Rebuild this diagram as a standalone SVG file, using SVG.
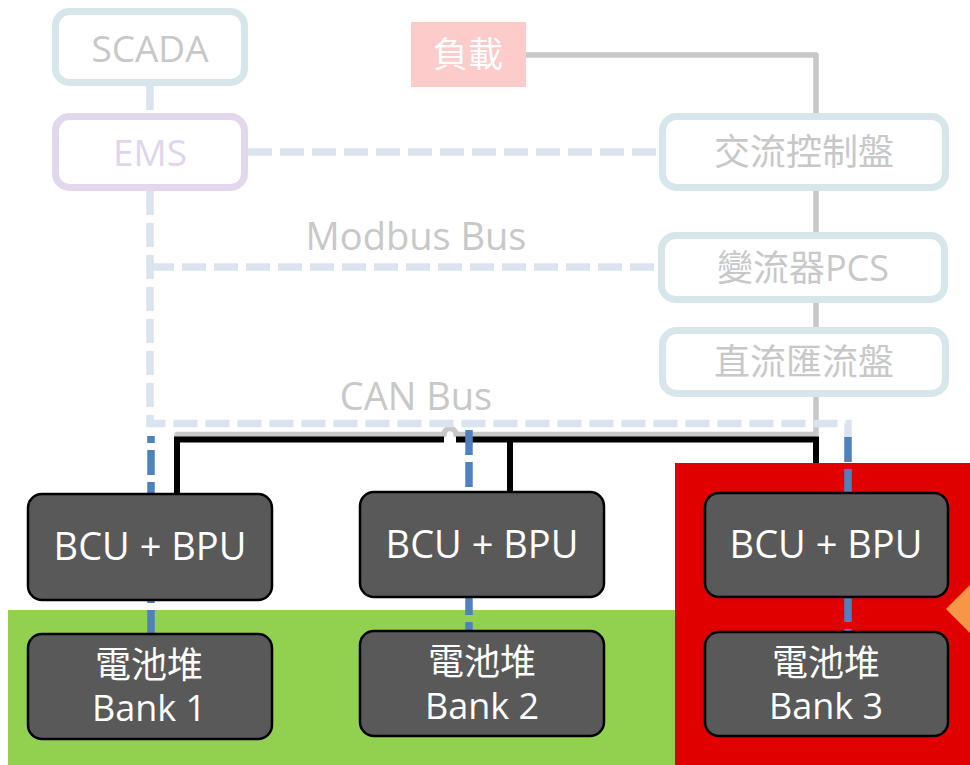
<svg xmlns="http://www.w3.org/2000/svg" width="970" height="765" viewBox="0 0 970 765">
<style>
text{font-family:"Open Sans","Noto Sans CJK TC","Noto Sans",sans-serif;text-anchor:middle}
.lt{fill:none;stroke:#dae3f0;stroke-width:7.5;stroke-dasharray:24 8}
.bl{fill:none;stroke:#4f81bd;stroke-width:7.5;stroke-dasharray:25 7}
.tb{fill:#fff;stroke:#d6e6ea;stroke-width:7}
.gt{fill:#c8c8c8;font-size:36px}
.dk{fill:#595959;stroke:#000;stroke-width:2.5}
.wt{fill:#fff;font-size:38px}
.wb{fill:#fff;font-size:36px}
</style>
<rect width="970" height="765" fill="#fff"/>
<g id="zones">
<rect x="8" y="610" width="667" height="155" fill="#92d050"/>
<rect x="675" y="463" width="295" height="302" fill="#e00000"/>
<polygon points="946,609 972,583 972,635" fill="#f79646"/>
</g>
<g id="connectors">
<path d="M526,55 H816 V434.5 H456 A6,6 0 0 0 444,434.5 H177 V495" fill="none" stroke="#c8c8c8" stroke-width="5.5" stroke-linejoin="round"/>
<path d="M510,434.5 V492" fill="none" stroke="#c8c8c8" stroke-width="5.5"/>
<path d="M177,495 V439.5 H444 M456,439.5 H816 V463 M510,439.5 V492" fill="none" stroke="#000" stroke-width="6"/>
<path class="lt" d="M150,86 V113"/>
<path class="lt" d="M248,152 H659"/>
<path class="lt" d="M150,267 H658"/>
<path class="lt" d="M150,191 V423.5 H848 V437"/>
<path class="bl" d="M151,436 V633" stroke-dashoffset="18"/>
<path class="bl" d="M469,430 V630"/>
<path class="bl" d="M848,437 V631"/>
</g>
<g id="scada">
<rect x="55.5" y="11.5" width="189" height="71" rx="14" fill="#fff" stroke="#d6e6ea" stroke-width="7"/>
<text x="150" y="62" class="gt" style="font-size:37px">SCADA</text>
</g>
<g id="ems">
<rect x="55.5" y="116.5" width="189" height="71" rx="14" fill="#fff" stroke="#e3d7ed" stroke-width="7"/>
<text x="150" y="166" style="font-size:37px;fill:#e1d4ec">EMS</text>
</g>
<g id="load">
<rect x="411" y="22" width="115" height="65" fill="#fdcbca"/>
<text x="468" y="67" style="font-size:35px;fill:#fff">負載</text>
</g>
<g id="ac-panel">
<rect class="tb" x="662.5" y="116.5" width="283" height="71" rx="14"/>
<text x="804" y="165" class="gt">交流控制盤</text>
</g>
<g id="pcs">
<rect class="tb" x="661.5" y="235.5" width="283" height="64" rx="14"/>
<text x="803" y="281" class="gt">變流器PCS</text>
</g>
<g id="dc-panel">
<rect class="tb" x="662.5" y="330.5" width="283" height="63" rx="14"/>
<text x="804" y="375" class="gt">直流匯流盤</text>
</g>
<g id="bus-labels">
<text x="416" y="250" class="gt" style="font-size:38px">Modbus Bus</text>
<text x="416" y="410" class="gt" style="font-size:38px">CAN Bus</text>
</g>
<g id="bcu1">
<rect class="dk" x="28" y="494" width="244" height="106" rx="14"/>
<text x="150" y="560" class="wt">BCU + BPU</text>
</g>
<g id="bcu2">
<rect class="dk" x="360" y="492" width="244" height="105" rx="14"/>
<text x="482" y="558" class="wt">BCU + BPU</text>
</g>
<g id="bcu3">
<rect class="dk" x="705" y="493" width="243" height="104" rx="14"/>
<text x="826" y="558" class="wt">BCU + BPU</text>
</g>
<g id="bank1">
<rect class="dk" x="28" y="634" width="244" height="105" rx="14"/>
<text x="149" y="678" class="wb">電池堆</text>
<text x="149" y="721" class="wb">Bank 1</text>
</g>
<g id="bank2">
<rect class="dk" x="360" y="631" width="244" height="105" rx="14"/>
<text x="482" y="675" class="wb">電池堆</text>
<text x="482" y="719" class="wb">Bank 2</text>
</g>
<g id="bank3">
<rect class="dk" x="705" y="632" width="243" height="104" rx="14"/>
<text x="826" y="676" class="wb">電池堆</text>
<text x="826" y="719" class="wb">Bank 3</text>
</g>
</svg>
